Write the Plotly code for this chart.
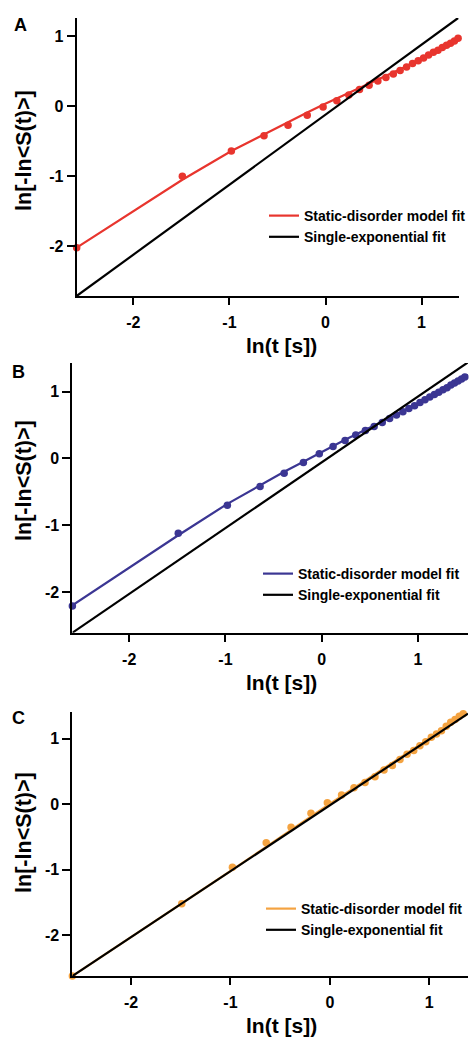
import plotly.graph_objects as go

# ln(t [s]) sample positions
ln_t = [-2.59, -1.49, -0.98, -0.64, -0.39, -0.19, -0.025, 0.118, 0.243, 0.354,
        0.454, 0.545, 0.629, 0.706, 0.777, 0.844, 0.906, 0.965, 1.021, 1.073,
        1.123, 1.171, 1.216, 1.260, 1.302, 1.342, 1.380]
ln_t_b = ln_t + [1.417, 1.453, 1.487, 1.521]

# Panel A (red)
a_data = [-2.02, -1.00, -0.64, -0.42, -0.27, -0.13, -0.01, 0.08, 0.16, 0.24,
          0.30, 0.36, 0.41, 0.46, 0.51, 0.56, 0.61, 0.65, 0.69, 0.73,
          0.77, 0.80, 0.84, 0.87, 0.90, 0.93, 0.97]
a_fit = [-2.02, -1.05, -0.64, -0.40, -0.22, -0.09, 0.02, 0.11, 0.19, 0.26,
         0.32, 0.38, 0.43, 0.48, 0.53, 0.57, 0.62, 0.66, 0.70, 0.74,
         0.77, 0.81, 0.84, 0.87, 0.90, 0.93, 0.96]
a_exp_x = [-2.59, 1.38]
a_exp_y = [-2.71, 1.26]

# Panel B (blue)
b_data = [-2.21, -1.12, -0.70, -0.42, -0.22, -0.06, 0.07, 0.18, 0.27, 0.35,
          0.42, 0.48, 0.54, 0.60, 0.65, 0.70, 0.75, 0.79, 0.84, 0.88,
          0.92, 0.96, 0.99, 1.03, 1.06, 1.10, 1.13, 1.16, 1.19, 1.22, 1.25]
b_fit = [-2.20, -1.15, -0.68, -0.40, -0.20, -0.05, 0.08, 0.19, 0.28, 0.36,
         0.43, 0.49, 0.55, 0.60, 0.65, 0.70, 0.75, 0.79, 0.84, 0.88,
         0.92, 0.96, 0.99, 1.03, 1.06, 1.10, 1.13, 1.16, 1.19, 1.22, 1.25]
b_exp_x = [-2.59, 1.52]
b_exp_y = [-2.61, 1.44]

# Panel C (orange)
c_data = [-2.62, -1.52, -0.96, -0.59, -0.35, -0.14, 0.02, 0.14, 0.25, 0.33,
          0.42, 0.52, 0.59, 0.68, 0.76, 0.82, 0.89, 0.95, 1.02, 1.07,
          1.12, 1.19, 1.25, 1.29, 1.34, 1.38, 1.43]
c_fit_x = [-2.59, -1.49, -0.98, -0.025, 1.38]
c_fit = [-2.62, -1.52, -1.00, -0.02, 1.38]
c_exp_x = [-2.59, 1.39]
c_exp_y = [-2.62, 1.38]

tick_vals = [-2, -1, 0, 1]
tick_text = ["-2", "-1", "0", "1"]

RED = "#E8352E"
BLUE = "#3B3693"
ORANGE = "#F4A341"
FONT = "Liberation Sans"

W, H = 471, 1037

panels = [
    dict(letter="A", color=RED, x=ln_t, data=a_data, fx=ln_t, fit=a_fit,
         ex=a_exp_x, ey=a_exp_y, xr=[-2.59, 1.39], yr=[-2.71, 1.26],
         px=(77, 461), py=(18, 296), leg=(473, 200), ytc=150, xtc=(283, 345), lc=(21, 25)),
    dict(letter="B", color=BLUE, x=ln_t_b, data=b_data, fx=ln_t_b, fit=b_fit,
         ex=b_exp_x, ey=b_exp_y, xr=[-2.59, 1.52], yr=[-2.61, 1.43],
         px=(72.7, 470), py=(363, 632.7), leg=(467, 558), ytc=480, xtc=(283, 682), lc=(19, 372)),
    dict(letter="C", color=ORANGE, x=ln_t, data=c_data, fx=c_fit_x, fit=c_fit,
         ex=c_exp_x, ey=c_exp_y, xr=[-2.59, 1.39], yr=[-2.62, 1.41],
         px=(72.7, 470), py=(711.7, 976), leg=(470, 893), ytc=832, xtc=(283, 1025), lc=(19, 718)),
]

fig = go.Figure()
annotations = []
layout = {}
for i, p in enumerate(panels):
    n = "" if i == 0 else str(i + 1)
    xa, ya = "x" + n, "y" + n
    lg = "legend" + n
    fig.add_trace(go.Scatter(x=p["fx"], y=p["fit"], mode="lines", xaxis=xa, yaxis=ya,
                             line=dict(color=p["color"], width=2.2),
                             name="Static-disorder model fit", legend=lg, legendrank=1,
                             cliponaxis=False))
    fig.add_trace(go.Scatter(x=p["x"], y=p["data"], mode="markers", xaxis=xa, yaxis=ya,
                             marker=dict(color=p["color"], size=7.5), showlegend=False,
                             cliponaxis=False))
    fig.add_trace(go.Scatter(x=p["ex"], y=p["ey"], mode="lines", xaxis=xa, yaxis=ya,
                             line=dict(color="black", width=2.2),
                             name="Single-exponential fit", legend=lg, legendrank=2,
                             cliponaxis=False))
    axcommon = dict(showline=True, linecolor="black", linewidth=2, ticks="outside",
                    tickwidth=2, tickcolor="black", showgrid=False, zeroline=False,
                    tickvals=tick_vals, ticktext=tick_text, automargin=False,
                    tickfont=dict(family=FONT, size=16, color="black", weight="bold"))
    layout["xaxis" + n] = dict(axcommon, domain=[p["px"][0] / W, p["px"][1] / W],
                               range=p["xr"], anchor=ya, ticklen=7, ticklabelstandoff=4)
    layout["yaxis" + n] = dict(axcommon, domain=[1 - p["py"][1] / H, 1 - p["py"][0] / H],
                               range=p["yr"], anchor=xa, ticklen=8)
    layout[lg] = dict(x=p["leg"][0] / W, y=1 - p["leg"][1] / H, xref="paper", yref="paper",
                      xanchor="right", yanchor="top", bgcolor="rgba(0,0,0,0)",
                      font=dict(family=FONT, size=14, color="black", weight="bold"),
                      itemwidth=30, tracegroupgap=0)
    annotations.append(dict(text="<b>ln[-ln&lt;S(t)&gt;]</b>", x=24 / W, y=1 - p["ytc"] / H,
                            xref="paper", yref="paper", showarrow=False, textangle=-90,
                            xanchor="center", yanchor="middle",
                            font=dict(family=FONT, size=21.5, color="black")))
    annotations.append(dict(text="<b>ln(t [s])</b>", x=p["xtc"][0] / W, y=1 - p["xtc"][1] / H,
                            xref="paper", yref="paper", showarrow=False,
                            xanchor="center", yanchor="middle",
                            font=dict(family=FONT, size=21, color="black")))
    annotations.append(dict(text="<b>" + p["letter"] + "</b>", x=p["lc"][0] / W, y=1 - p["lc"][1] / H,
                            xref="paper", yref="paper", showarrow=False,
                            xanchor="center", yanchor="middle",
                            font=dict(family=FONT, size=18, color="black")))

fig.update_layout(width=W, height=H, margin=dict(l=0, r=0, t=0, b=0),
                  paper_bgcolor="white", plot_bgcolor="white",
                  annotations=annotations, **layout)
fig.write_html("out.html", config={"displayModeBar": False},
               post_script="document.documentElement.style.margin='0';"
                           "document.body.style.margin='0';"
                           "document.body.style.overflow='hidden';")
